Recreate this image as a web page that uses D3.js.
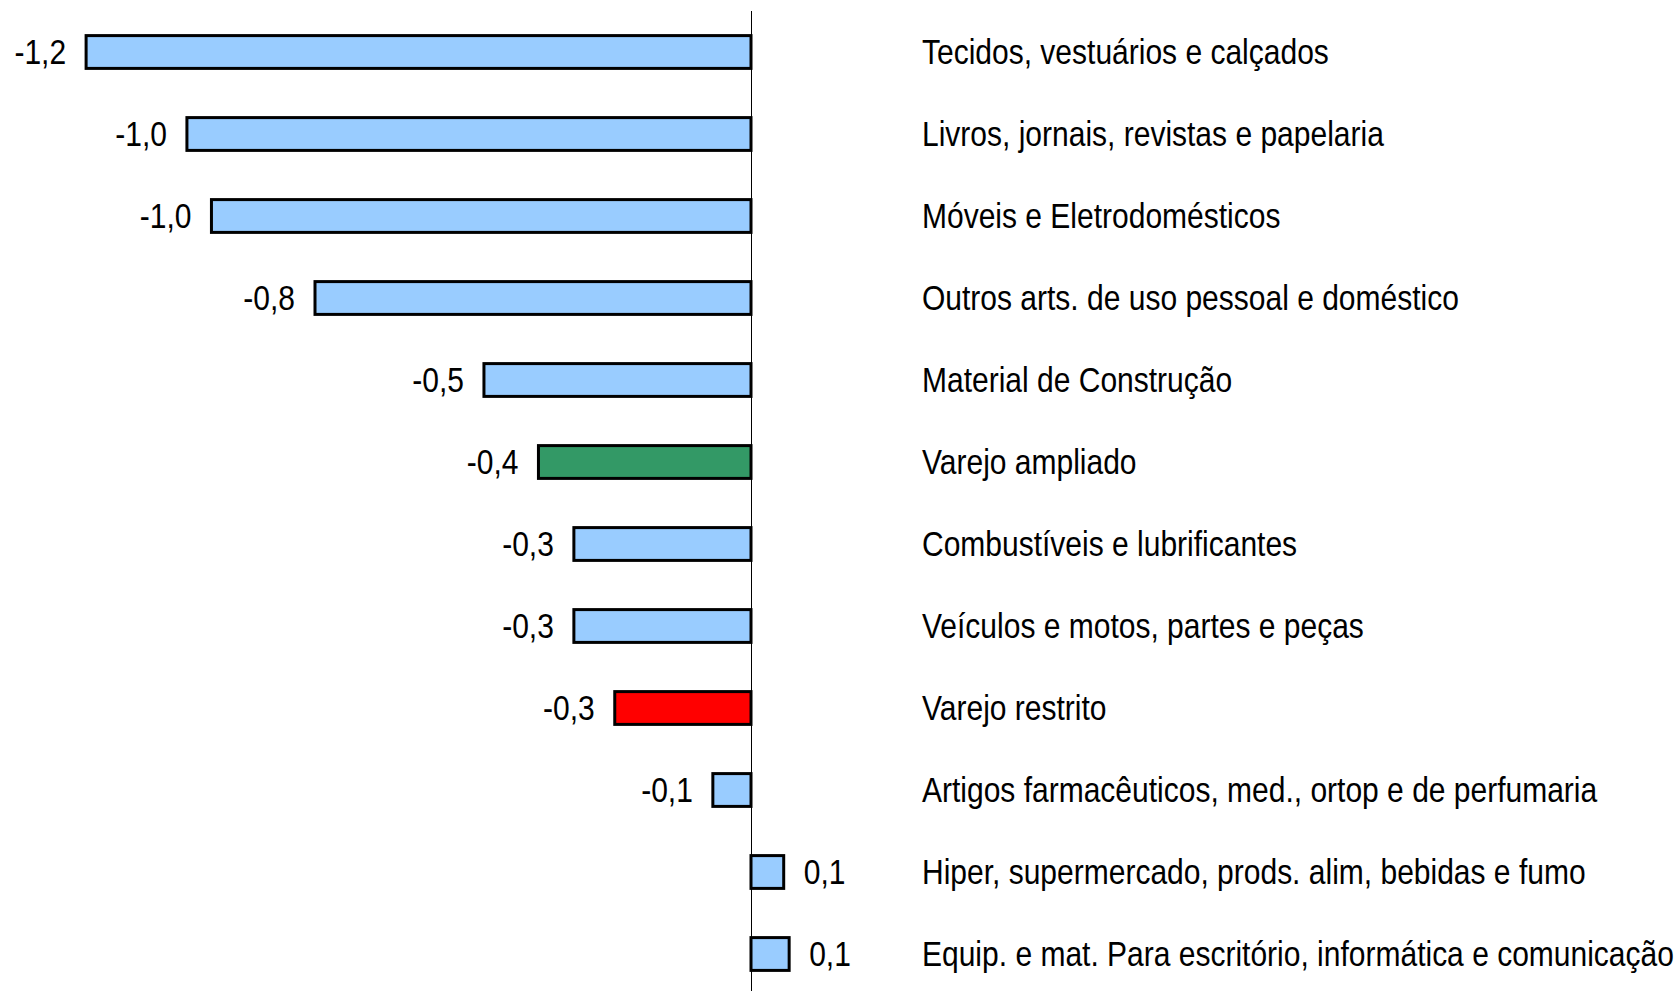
<!DOCTYPE html>
<html>
<head>
<meta charset="utf-8">
<script src="https://cdn.jsdelivr.net/npm/d3@7"></script>
<style>
  html, body { margin: 0; padding: 0; background: #fff; }
  svg { display: block; }
</style>
</head>
<body>
<svg id="chart"></svg>
<script>
// categories, top to bottom
const categories = [
  "Tecidos, vestuários e calçados",
  "Livros, jornais, revistas e papelaria",
  "Móveis e Eletrodomésticos",
  "Outros arts. de uso pessoal e doméstico",
  "Material de Construção",
  "Varejo ampliado",
  "Combustíveis e lubrificantes",
  "Veículos e motos, partes e peças",
  "Varejo restrito",
  "Artigos farmacêuticos, med., ortop e de perfumaria",
  "Hiper, supermercado, prods. alim, bebidas e fumo",
  "Equip. e mat. Para escritório, informática e comunicação"
];
// values
const values = [-1.22, -1.035, -0.99, -0.80, -0.49, -0.39, -0.325, -0.325, -0.25, -0.07, 0.06, 0.07];
// which bars are highlighted
const highlight = ["", "", "", "", "", "ampliado", "", "", "restrito", "", "", ""];

const width = 1680, height = 991;
const fontFamily = "'Liberation Sans', Arial, sans-serif";
const fontSize = 36;

const colors = { "": "#99CCFF", ampliado: "#339966", restrito: "#FF0000" };

const rows = categories.map((c, i) => ({ cat: c, value: values[i], kind: highlight[i] }));

const svg = d3.select("#chart")
  .attr("width", width)
  .attr("height", height)
  .attr("font-family", fontFamily);

const x = d3.scaleLinear()
  .domain([-1.3, 0.3])
  .range([751 - 1.3 * 545, 751 + 0.3 * 545]);

const y = d3.scaleBand()
  .domain(categories)
  .range([11, 995])
  .paddingInner(0.6)
  .paddingOuter(0.3);

// narrow font: squeeze Liberation Sans horizontally (reference looks like Arial Narrow)
const probe = svg.append("text").attr("font-size", fontSize).text(categories[0]);
const sx = 407 / probe.node().getComputedTextLength();
probe.remove();

// bars
svg.append("g")
  .selectAll("rect")
  .data(rows)
  .join("rect")
  .attr("x", d => x(Math.min(0, d.value)))
  .attr("width", d => Math.abs(x(d.value) - x(0)))
  .attr("y", d => y(d.cat))
  .attr("height", y.bandwidth())
  .attr("fill", d => colors[d.kind])
  .attr("stroke", "#000")
  .attr("stroke-width", 3);

// zero line
svg.append("line")
  .attr("x1", x(0) + 0.5).attr("x2", x(0) + 0.5)
  .attr("y1", 11).attr("y2", height)
  .attr("stroke", "#000")
  .attr("stroke-width", 1);

const fmt = v => d3.format(".1f")(v).replace(".", ",").replace("−", "-");
const baseY = d => y(d.cat) + y.bandwidth() / 2 + 12;

// value labels
svg.append("g")
  .selectAll("g")
  .data(rows)
  .join("g")
  .attr("transform", d => `translate(${d.value < 0 ? x(d.value) - 20 : x(d.value) + 20},${baseY(d)}) scale(${sx},1)`)
  .append("text")
  .attr("text-anchor", d => d.value < 0 ? "end" : "start")
  .attr("font-size", fontSize)
  .attr("fill", "#000")
  .text(d => fmt(d.value));

// category labels
svg.append("g")
  .selectAll("g")
  .data(rows)
  .join("g")
  .attr("transform", d => `translate(922,${baseY(d)}) scale(${sx},1)`)
  .append("text")
  .attr("font-size", fontSize)
  .attr("fill", "#000")
  .text(d => d.cat);
</script>
</body>
</html>
